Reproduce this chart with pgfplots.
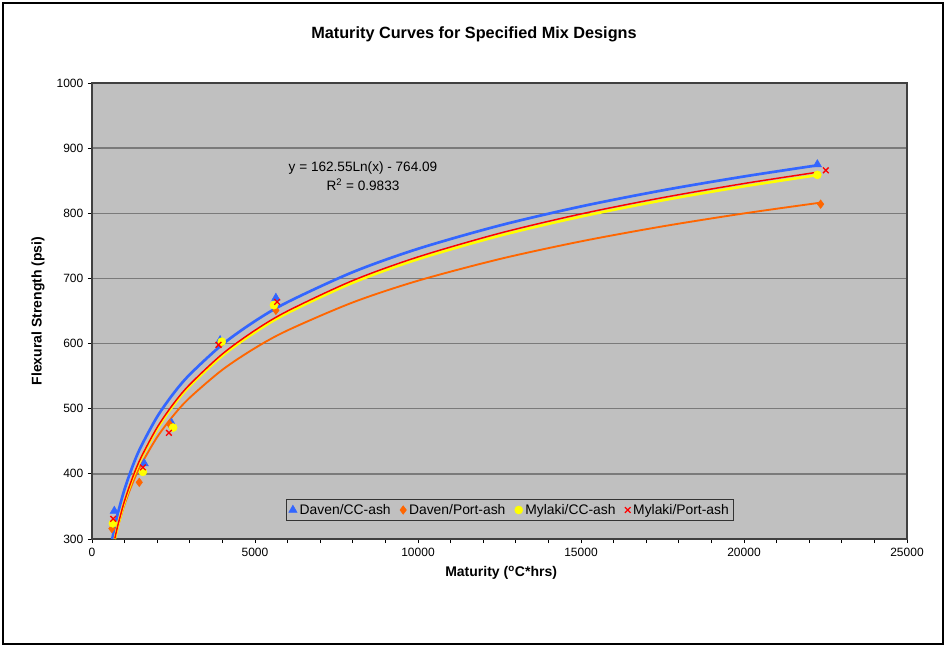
\documentclass[border=0pt]{standalone}
\usepackage{pgfplots}
\pgfplotsset{compat=1.18}
\usepackage{fontspec}
\setmainfont{Liberation Sans}
\definecolor{plotgray}{HTML}{C0C0C0}
\definecolor{gridgray}{HTML}{7A7A7A}
\definecolor{dblue}{HTML}{3366FF}
\definecolor{dorange}{HTML}{FF6600}
\definecolor{myellow}{HTML}{FFFF00}
\definecolor{mred}{HTML}{FF0000}

\begin{document}
\begin{tikzpicture}
\useasboundingbox (-69pt,-81pt) rectangle (640.5pt,404.25pt);
\fill[white] (-69pt,-81pt) rectangle (640.5pt,404.25pt);
\draw[black, line width=1pt] (-66.75pt,-78.75pt) rectangle (638.25pt,402pt);
\node[font=\fontsize{12.2}{14}\selectfont\bfseries] at (286.5pt,378.75pt) {Maturity Curves for Specified Mix Designs};
\begin{axis}[
    at={(0,0)}, anchor=south west,
    scale only axis, width=611.25pt, height=342pt,
    xmin=0, xmax=25000, ymin=300, ymax=1000,
    xtick={0,5000,...,25000}, minor x tick num=4,
    ytick={300,400,...,1000},
    tick align=outside, xtick pos=bottom, ytick pos=left,
    major tick length=3pt, minor tick length=3pt,
    tick style={black, line width=0.6pt},
    axis background/.style={fill=plotgray},
    axis line style={black!75, line width=0.8pt},
    ymajorgrids, grid style={gridgray, line width=1.1pt},
    scaled ticks=false,
    /pgf/number format/1000 sep={},
    /pgf/number format/assume math mode=true,
    ticklabel style={font=\fontsize{9}{10}\selectfont},
    xlabel={\textbf{Maturity (\textsuperscript{o}C*hrs)}},
    ylabel={\textbf{Flexural Strength (psi)}},
    label style={font=\fontsize{10.5}{12}\selectfont},
    x label style={at={(axis description cs:0.502,-0.0746)}, anchor=center},
    y label style={at={(axis description cs:-0.0663,0.5)}, anchor=center},
    legend style={at={(0.513,0.0636)}, anchor=center, legend columns=4,
        draw=black!80, fill=plotgray, font=\fontsize{10.4}{12}\selectfont,
        inner sep=1.5pt,
        /tikz/every even column/.append style={column sep=5pt}},
    legend cell align=left,
]
% trend lines
\addplot[dorange, line width=1.4pt, smooth, forget plot] coordinates {
    (700,300.0) (800,319.9) (1000,353.2) (1250,386.4) (1500,413.6) (2000,456.5)
    (2500,489.8) (3000,517.0) (4000,559.8) (5000,593.1) (6000,620.3) (8000,663.2)
    (10000,696.5) (12500,729.7) (15000,756.9) (17500,779.9) (20000,799.8) (22300,816.0)};
\addplot[dblue, line width=2pt, smooth, forget plot] coordinates {
    (620,300.0) (700,319.5) (800,340.9) (1000,376.6) (1250,412.4) (1500,441.6) (2000,487.7)
    (2500,523.4) (3000,552.6) (4000,598.7) (5000,634.5) (6000,663.7) (8000,709.7)
    (10000,745.5) (12500,781.2) (15000,810.5) (17500,835.2) (20000,856.5) (22300,874.0)};
\addplot[myellow, line width=2pt, smooth, forget plot] coordinates {
    (700,300.0) (800,321.6) (1000,357.6) (1250,393.6) (1500,423.1) (2000,469.5)
    (2500,505.6) (3000,535.0) (4000,581.5) (5000,617.5) (6000,647.0) (8000,693.4)
    (10000,729.5) (12500,765.5) (15000,795.0) (17500,819.9) (20000,841.4) (22300,859.0)};
\addplot[mred, line width=1.1pt, smooth, forget plot] coordinates {
    (700,300.8) (800,322.5) (1000,358.8) (1250,395.0) (1500,424.7) (2000,471.4)
    (2500,507.7) (3000,537.3) (4000,584.1) (5000,620.4) (6000,650.0) (8000,696.8)
    (10000,733.0) (12500,769.3) (15000,799.0) (17500,824.0) (20000,845.7) (22300,863.4)};
% measured points
\addplot[only marks, mark=triangle*, mark size=3.6pt, color=dblue] coordinates {
    (685,343) (1600,416) (2440,478) (3930,605) (5640,670) (22250,875)};
\addlegendentry{Daven/CC-ash}
\addplot[only marks, mark=diamond*, mark size=3.2pt, color=dorange] coordinates {
    (610,316) (1450,387) (2400,475) (3950,600) (5640,651) (22350,814)};
\addlegendentry{Daven/Port-ash}
\addplot[only marks, mark=*, mark size=3pt, color=myellow] coordinates {
    (640,324) (1560,403) (2490,471) (3980,603) (5580,659) (22250,859)};
\addlegendentry{Mylaki/CC-ash}
\addplot[only marks, mark=x, mark size=3pt, color=mred, line width=1pt] coordinates {
    (650,331) (1560,410) (2360,463) (3880,598) (5680,664) (22510,866)};
\addlegendentry{Mylaki/Port-ash}
\node[align=center, font=\fontsize{10.2}{14.5}\selectfont] at (axis cs:8313,857)
    {y = 162.55Ln(x) - 764.09\\R\textsuperscript{2} = 0.9833};
\end{axis}
\end{tikzpicture}
\end{document}
